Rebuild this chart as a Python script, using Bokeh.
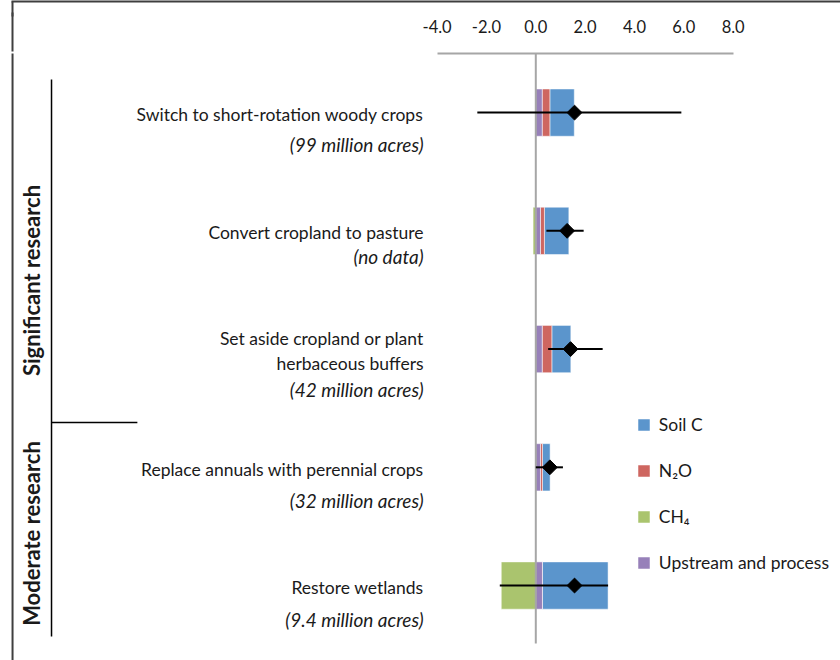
import numpy as np
from bokeh.plotting import figure
from bokeh.models import (Range1d, FixedTicker, NumeralTickFormatter, Legend,
                          LegendItem, ColumnDataSource, LinearAxis, CustomLabelingPolicy)
from bokeh.core.properties import value
from bokeh.embed import file_html
from bokeh.resources import INLINE

# ---------------- data ----------------
actions = ["Switch to short-rotation woody crops",
           "Convert cropland to pasture",
           "Set aside cropland or plant\nherbaceous buffers",
           "Replace annuals with perennial crops",
           "Restore wetlands"]
acres = ["(99 million acres)", "(no data)", "(42 million acres)",
         "(32 million acres)", "(9.4 million acres)"]
research_groups = ["Significant research", "Moderate research"]

upstream = [0.26, 0.19, 0.26, 0.19, 0.27]
n2o      = [0.31, 0.16, 0.39, 0.08, 0.00]
ch4      = [0.00, -0.11, 0.00, 0.00, -1.40]
soil_c   = [0.99, 0.99, 0.77, 0.31, 2.66]
net      = [1.57, 1.27, 1.41, 0.57, 1.57]
err_low  = [-2.37, 0.43, 0.50, 0.00, -1.46]
err_high = [5.90, 1.94, 2.71, 1.10, 2.93]
tick_values = [-4, -2, 0, 2, 4, 6, 8]

# ---------------- styles / layout ----------------
C_SOIL, C_N2O, C_CH4, C_UP = "#5B95CC", "#CE6660", "#AAC46E", "#9780B9"
C_TEXT = "#1a1a1a"
C_FRAME = "#3f3f3f"
FONT = value("Lato")
X0, X1 = -21.698, 12.351          # horizontal extent of the drawing area
LABEL_X = -4.55
acre_offsets = [32, 26, 40, 33, 34]
GROUP_X = -20.43
group_rows = [1.42, 3.56]
BORDER_X = -21.21

rows = np.arange(len(actions))
up_l = np.zeros(len(rows)); up_r = up_l + np.array(upstream)
n2o_l = up_r; n2o_r = n2o_l + np.array(n2o)
soil_l = n2o_r; soil_r = soil_l + np.array(soil_c)
ch4_l = np.array(ch4); ch4_r = np.zeros(len(rows))

p = figure(width=840, height=660,
           x_range=Range1d(X0, X1), y_range=Range1d(4.634, -0.5),
           x_axis_location="above", y_axis_location=None,
           toolbar_location=None, output_backend="svg",
           min_border=0, min_border_top=53)
p.grid.visible = False
p.outline_line_color = None
p.background_fill_color = "white"
p.border_fill_color = "white"

ax = p.xaxis[0]
ax.ticker = FixedTicker(ticks=tick_values)
ax.formatter = NumeralTickFormatter(format="0.0")
ax.bounds = (-4, 8)
ax.axis_line_color = "#a6a6a6"
ax.axis_line_width = 2
ax.major_tick_line_color = None
ax.minor_tick_line_color = None
ax.major_tick_out = 0
ax.major_tick_in = 0
ax.major_label_standoff = 21
ax.major_label_text_font = "Lato"
ax.major_label_text_font_size = "16.5px"
ax.major_label_text_color = C_TEXT

# spacer between the tick labels and the outer frame (its only tick lies on the frame's left edge)
spacer = LinearAxis(ticker=FixedTicker(ticks=[BORDER_X]),
                    bounds=(BORDER_X - 0.05, X1 + 1),
                    axis_line_color=None,
                    major_tick_line_color=C_FRAME, major_tick_line_width=2,
                    major_tick_out=4, major_tick_in=0,
                    minor_tick_line_color=None, minor_tick_out=0,
                    major_label_standoff=0,
                    major_label_policy=CustomLabelingPolicy(code="return new Set()"))
p.add_layout(spacer, "above")

# outer frame: top edge (axis line) and upper part of left edge (minor tick)
frame_axis = LinearAxis(ticker=FixedTicker(ticks=[], minor_ticks=[BORDER_X]),
                        bounds=(BORDER_X - 0.05, X1 + 1),
                        axis_line_color=C_FRAME, axis_line_width=2,
                        major_tick_line_color=None,
                        minor_tick_line_color=C_FRAME, minor_tick_line_width=2,
                        minor_tick_in=50, minor_tick_out=0)
p.add_layout(frame_axis, "above")

bar_kw = dict(height=0.4, line_color="white", line_alpha=0.5, line_width=1)
r_soil = p.hbar(y=rows, left=soil_l, right=soil_r, fill_color=C_SOIL, **bar_kw)
r_n2o = p.hbar(y=rows, left=n2o_l, right=n2o_r, fill_color=C_N2O, **bar_kw)
r_ch4 = p.hbar(y=rows, left=ch4_l, right=ch4_r, fill_color=C_CH4, **bar_kw)
r_up = p.hbar(y=rows, left=up_l, right=up_r, fill_color=C_UP, **bar_kw)

# left edge of the outer frame
p.segment(x0=[BORDER_X], y0=[-0.6], x1=[BORDER_X], y1=[5.0], line_color=C_FRAME, line_width=2)

# zero line
p.segment(x0=[0], y0=[-0.5], x1=[0], y1=[4.49], line_color="#a6a6a6", line_width=2)

# error bars and net values
p.segment(x0=err_low, y0=rows, x1=err_high, y1=rows, line_color="black", line_width=2)
p.scatter(x=net, y=rows, marker="square", angle=np.pi / 4, size=10.5,
          fill_color="black", line_color="black")

# action labels
lab_src = ColumnDataSource(dict(x=[LABEL_X] * len(rows), y=rows, t=actions))
p.text(x="x", y="y", text="t", source=lab_src, text_align="right",
       text_baseline="middle", y_offset=2, text_font=FONT,
       text_font_size="17.5px", text_color=C_TEXT, text_line_height=1.18)
ac_src = ColumnDataSource(dict(x=[LABEL_X] * len(rows), y=rows, t=acres, off=acre_offsets))
p.text(x="x", y="y", text="t", source=ac_src, text_align="right",
       text_baseline="middle", y_offset="off", text_font=FONT,
       text_font_size="19px", text_font_style="italic", text_color=C_TEXT)

# research groups
p.text(x=[GROUP_X] * 2, y=group_rows, text=research_groups, angle=np.pi / 2,
       text_align="center", text_baseline="middle", text_font=FONT,
       text_font_size="22px", text_font_style="bold", text_color=C_TEXT)
p.segment(x0=[-19.63, -19.63], y0=[-0.28, 2.62], x1=[-19.63, -16.15], y1=[4.43, 2.62],
          line_color="black", line_width=1.5)

legend = Legend(items=[LegendItem(label="Soil C", renderers=[r_soil]),
                       LegendItem(label="N₂O", renderers=[r_n2o]),
                       LegendItem(label="CH₄", renderers=[r_ch4]),
                       LegendItem(label="Upstream and process", renderers=[r_up])],
                location=(635.8, 86.2), orientation="vertical",
                glyph_width=15, glyph_height=15, label_height=22, spacing=24,
                label_standoff=8, padding=0, margin=0,
                border_line_color=None, background_fill_alpha=0,
                label_text_font="Lato", label_text_font_size="17.5px",
                label_text_color=C_TEXT)
p.add_layout(legend)

open("out.html", "w").write(file_html(p, INLINE))
